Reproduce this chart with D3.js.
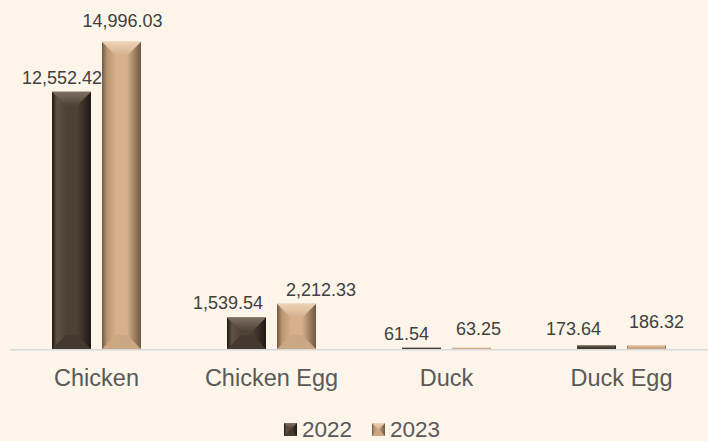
<!DOCTYPE html>
<html>
<head>
<meta charset="utf-8">
<script src="https://cdn.jsdelivr.net/npm/d3@7"></script>
<style>
	html, body { margin: 0; padding: 0; background: #FDF5E9; }
	svg { display: block; }
</style>
</head>
<body>
<svg id="chart" width="708" height="441"></svg>
<script>

// data
var aCategories = ['Chicken', 'Chicken Egg', 'Duck', 'Duck Egg'];
var aSeries = ['2022', '2023'];
var aValues2022 = [12552.42, 1539.54, 61.54, 173.64];
var aValues2023 = [14996.03, 2212.33, 63.25, 186.32];

// label nudges (the original labels were dragged by hand)
var aLabelShift2022 = [[-9.5, 0], [-18.5, 0], [-15, 0], [-23, -2.4]];
var aLabelShift2023 = [[1, -7], [24.5, 0], [7, -5], [10, -9]];

var aPalettes = [
	{ face: '#4D4135', top: '#7E7063', left: '#5E5246', right: '#1F1913', bottom: '#43392F' },
	{ face: '#D5B08B', top: '#EDD3B7', left: '#B8966F', right: '#6E5843', bottom: '#CBA783' }
];

var sSvg = d3.select('#chart');
var nBaseY = 349;
var nLeft = 9;
var nRight = 709;

var scaleX = d3.scaleBand()
	.domain(aCategories)
	.range([nLeft, nRight])
	.padding(0);

var scaleSeries = d3.scaleBand()
	.domain(aSeries)
	.range([0, scaleX.bandwidth()])
	.paddingInner(0.22)
	.paddingOuter(0.86);

var scaleY = d3.scaleLinear()
	.domain([0, 16000])
	.range([nBaseY, nBaseY - 16000 * 0.020492]);

var fmt = d3.format(',.2f');

// gradients for side faces
var sDefs = sSvg.append('defs');
aPalettes.forEach(function(pal, i)
{
	var gL = sDefs.append('linearGradient').attr('id', 'gl' + i).attr('x1', 0).attr('x2', 1).attr('y1', 0).attr('y2', 0);
	gL.append('stop').attr('offset', '0%').attr('stop-color', pal.right);
	gL.append('stop').attr('offset', '35%').attr('stop-color', pal.left);
	gL.append('stop').attr('offset', '100%').attr('stop-color', pal.face);
	var gR = sDefs.append('linearGradient').attr('id', 'gr' + i).attr('x1', 0).attr('x2', 1).attr('y1', 0).attr('y2', 0);
	gR.append('stop').attr('offset', '0%').attr('stop-color', pal.face);
	gR.append('stop').attr('offset', '100%').attr('stop-color', pal.right);
	var gT = sDefs.append('linearGradient').attr('id', 'gt' + i).attr('x1', 0).attr('x2', 0).attr('y1', 0).attr('y2', 1);
	gT.append('stop').attr('offset', '0%').attr('stop-color', pal.top);
	gT.append('stop').attr('offset', '100%').attr('stop-color', pal.face);
});

function DrawBevelBar(sG, x, y, w, h, nPal)
{
	var pal = aPalettes[nPal];
	var b = Math.min(14, h / 2, w / 2);
	var x0 = x, x1 = x + w, y0 = y, y1 = y + h;
	function poly(aPts, fill)
	{
		sG.append('polygon')
			.attr('points', aPts.map(function(p) { return p.join(','); }).join(' '))
			.attr('fill', fill);
	}
	sG.append('rect').attr('x', x0).attr('y', y0).attr('width', w).attr('height', h).attr('fill', pal.face);
	poly([[x0, y1], [x1, y1], [x1 - b, y1 - b], [x0 + b, y1 - b]], pal.bottom);
	poly([[x0, y0], [x0 + b, y0 + b], [x0 + b, y1 - b], [x0, y1]], 'url(#gl' + nPal + ')');
	poly([[x1, y0], [x1 - b, y0 + b], [x1 - b, y1 - b], [x1, y1]], 'url(#gr' + nPal + ')');
	poly([[x0, y0], [x1, y0], [x1 - b, y0 + b], [x0 + b, y0 + b]], 'url(#gt' + nPal + ')');
}

// axis line
sSvg.append('line')
	.attr('x1', nLeft + 1).attr('x2', 708)
	.attr('y1', nBaseY + 0.75).attr('y2', nBaseY + 0.75)
	.attr('stroke', '#D9D9D9')
	.attr('stroke-width', 1.5);

var aAllValues = [aValues2022, aValues2023];
var aAllShifts = [aLabelShift2022, aLabelShift2023];

var sBars = sSvg.append('g');
aSeries.forEach(function(strSeries, nS)
{
	aCategories.forEach(function(strCat, nC)
	{
		var fVal = aAllValues[nS][nC];
		var x = scaleX(strCat) + scaleSeries(strSeries);
		var y = scaleY(fVal);
		DrawBevelBar(sBars.append('g'), x, y, scaleSeries.bandwidth(), nBaseY - y, nS);

		sSvg.append('text')
			.attr('x', x + scaleSeries.bandwidth() / 2 + aAllShifts[nS][nC][0])
			.attr('y', y - 8 + aAllShifts[nS][nC][1])
			.attr('text-anchor', 'middle')
			.attr('font-family', '"Liberation Sans", Arial, sans-serif')
			.attr('font-size', 18)
			.attr('fill', '#404040')
			.text(fmt(fVal));
	});
});

// category labels
var axisX = d3.axisBottom(scaleX).tickSize(0).tickPadding(0);
var sAxis = sSvg.append('g')
	.attr('transform', 'translate(0,' + nBaseY + ')')
	.call(axisX);
sAxis.select('.domain').remove();
sAxis.selectAll('text')
	.attr('y', 37)
	.attr('dy', null)
	.attr('font-family', '"Liberation Sans", Arial, sans-serif')
	.attr('font-size', 23.5)
	.attr('fill', '#595959');

// legend
var aLegendX = [284, 372];
aSeries.forEach(function(strSeries, nS)
{
	var sL = sSvg.append('g').attr('transform', 'translate(' + aLegendX[nS] + ',423)');
	DrawBevelBar(sL, 0, 0, 13, 13, nS);
	sL.append('text')
		.attr('x', 18)
		.attr('y', 13.5)
		.attr('font-family', '"Liberation Sans", Arial, sans-serif')
		.attr('font-size', 22.5)
		.attr('fill', '#595959')
		.text(strSeries);
});

</script>
</body>
</html>
